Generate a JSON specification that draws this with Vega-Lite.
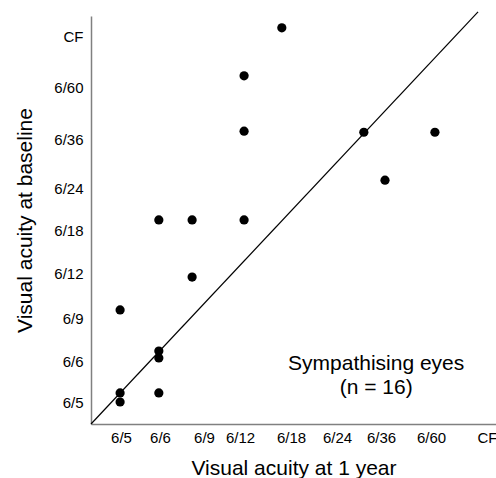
{
  "$schema": "https://vega.github.io/schema/vega-lite/v6.json",
  "width": 405,
  "height": 408,
  "autosize": "none",
  "padding": {"left": 91, "top": 16, "right": 0, "bottom": 54},
  "background": "white",
  "config": {"view": {"stroke": null}, "font": "Liberation Sans"},
  "datasets": {
    "eyes": [
      {"one_year": 4.08, "baseline": 8.22},
      {"one_year": 4.08, "baseline": 7.15},
      {"one_year": 1.97, "baseline": 5.24},
      {"one_year": 2.73, "baseline": 5.24},
      {"one_year": 4.08, "baseline": 5.24},
      {"one_year": 2.73, "baseline": 3.91},
      {"one_year": 0.97, "baseline": 3.18},
      {"one_year": 1.97, "baseline": 2.23},
      {"one_year": 1.97, "baseline": 2.07},
      {"one_year": 0.97, "baseline": 1.22},
      {"one_year": 0.97, "baseline": 1.0},
      {"one_year": 1.97, "baseline": 1.22},
      {"one_year": 4.82, "baseline": 9.16},
      {"one_year": 6.61, "baseline": 7.13},
      {"one_year": 8.07, "baseline": 7.13},
      {"one_year": 7.08, "baseline": 6.16}
    ],
    "diag": [{"x1": 0, "y1": 0, "x2": 8.84, "y2": 9.47}],
    "note": [{"x": 6.89, "y": 1.93, "label": ["Sympathising eyes", "(n = 16)"]}]
  },
  "layer": [
    {
      "data": {"name": "diag"},
      "mark": {"type": "rule", "color": "black", "strokeWidth": 1.2, "clip": false},
      "encoding": {
        "x": {"field": "x1", "type": "quantitative",
          "scale": {"domain": [0, 1, 2, 3, 4, 5, 6, 7, 8, 9, 9.16], "range": [0, 30, 69, 113, 149, 200, 246, 290, 340, 396, 405], "nice": false, "zero": false},
          "axis": {
            "values": [1, 2, 3, 4, 5, 6, 7, 8, 9],
            "labelExpr": "['','6/5','6/6','6/9','6/12','6/18','6/24','6/36','6/60','CF'][datum.value]",
            "ticks": false, "grid": false,
            "domainColor": "#808080", "domainWidth": 1.5,
            "labelFontSize": 15, "labelColor": "black", "labelPadding": 6,
            "labelFlush": false, "labelOverlap": false, "labelBound": false,
            "title": "Visual acuity at 1 year", "titleFontSize": 21, "titleFontWeight": "normal",
            "titleColor": "black", "titlePadding": 12
          }},
        "y": {"field": "y1", "type": "quantitative",
          "scale": {"domain": [0, 1, 2, 3, 4, 5, 6, 7, 8, 9, 9.39], "range": [408, 386, 345, 302, 257, 214, 172, 123, 71, 20, 0], "nice": false, "zero": false},
          "axis": {
            "values": [1, 2, 3, 4, 5, 6, 7, 8, 9],
            "labelExpr": "['','6/5','6/6','6/9','6/12','6/18','6/24','6/36','6/60','CF'][datum.value]",
            "ticks": false, "grid": false,
            "domainColor": "#808080", "domainWidth": 1.5,
            "labelFontSize": 15, "labelColor": "black", "labelPadding": 8,
            "labelFlush": false, "labelOverlap": false, "labelBound": false,
            "title": "Visual acuity at baseline", "titleFontSize": 21, "titleFontWeight": "normal",
            "titleColor": "black", "titlePadding": 18
          }},
        "x2": {"field": "x2"},
        "y2": {"field": "y2"}
      }
    },
    {
      "data": {"name": "eyes"},
      "mark": {"type": "circle", "size": 85, "color": "black", "opacity": 1},
      "encoding": {
        "x": {"field": "one_year", "type": "quantitative"},
        "y": {"field": "baseline", "type": "quantitative"}
      }
    },
    {
      "data": {"name": "note"},
      "mark": {"type": "text", "fontSize": 21, "color": "black", "align": "center", "baseline": "middle", "lineHeight": 24},
      "encoding": {
        "x": {"field": "x", "type": "quantitative"},
        "y": {"field": "y", "type": "quantitative"},
        "text": {"field": "label"}
      }
    }
  ]
}
